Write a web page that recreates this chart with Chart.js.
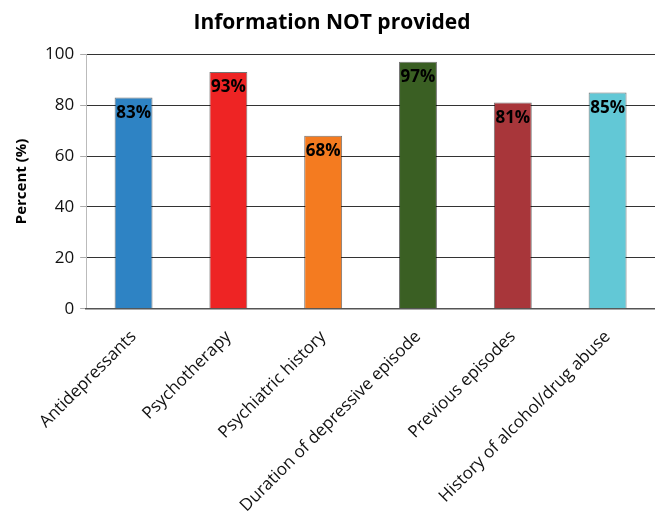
<!DOCTYPE html>
<html>
<head>
<meta charset="utf-8">
<script src="https://cdn.jsdelivr.net/npm/chart.js@4.4.1/dist/chart.umd.min.js"></script>
<style>
  html, body { margin: 0; padding: 0; background: #fff; }
  #wrap { width: 655px; height: 517px; }
</style>
</head>
<body>
<div id="wrap"><canvas id="chart"></canvas></div>
<script>
var categories = ['Antidepressants', 'Psychotherapy', 'Psychiatric history',
    'Duration of depressive episode', 'Previous episodes', 'History of alcohol/drug abuse'];
var percentValues = [83, 93, 68, 97, 81, 85];
var barColors = ['#2e83c4', '#ee2424', '#f47b20', '#3a5f23', '#a8363a', '#62c8d6'];
var yTicks = [0, 20, 40, 60, 80, 100];

var fontFamily = '"Open Sans", "Noto Sans", sans-serif';

// draws "83%" etc just inside the top of each bar
var barLabels = {
    id: 'barLabels',
    afterDatasetsDraw: function (chart) {
        var ctx = chart.ctx;
        var meta = chart.getDatasetMeta(0);
        ctx.save();
        ctx.font = 'bold 17px ' + fontFamily;
        ctx.fillStyle = '#000';
        ctx.textAlign = 'center';
        ctx.textBaseline = 'top';
        meta.data.forEach(function (bar, i) {
            ctx.fillText(percentValues[i] + '%', bar.x, bar.y + 7);
        });
        ctx.restore();
    }
};

var ctx = document.getElementById('chart').getContext('2d');
var chart = new Chart(ctx, {
    type: 'bar',
    data: {
        labels: categories,
        datasets: [{
            data: percentValues,
            backgroundColor: barColors,
            borderColor: 'rgba(0,0,0,0.55)',
            borderWidth: 1,
            barPercentage: 0.4,
            categoryPercentage: 1.0
        }]
    },
    options: {
        responsive: true,
        maintainAspectRatio: false,
        animation: false,
        layout: { padding: { left: 9, right: 0, top: 0, bottom: 0 } },
        plugins: {
            legend: { display: false },
            tooltip: { enabled: false },
            title: {
                display: true,
                text: 'Information NOT provided',
                color: '#000',
                font: { family: fontFamily, size: 21, weight: 'bold' },
                padding: { top: 10, bottom: 19 }
            }
        },
        scales: {
            y: {
                min: 0,
                max: 100,
                afterBuildTicks: function (axis) {
                    axis.ticks = yTicks.map(function (v) { return { value: v }; });
                },
                grid: {
                    color: function (c) { return c.tick.value === 0 ? 'transparent' : '#333'; },
                    lineWidth: 1,
                    drawTicks: true,
                    tickLength: 6,
                    tickColor: '#aaa'
                },
                border: { display: true, color: '#bbb' },
                ticks: {
                    color: '#111',
                    font: { family: fontFamily, size: 17 },
                    padding: 6
                },
                title: {
                    display: true,
                    text: 'Percent (%)',
                    color: '#000',
                    font: { family: fontFamily, size: 15, weight: 'bold' },
                    padding: { bottom: 8 }
                }
            },
            x: {
                afterFit: function (axis) {
                    // rotated labels get more room than they use
                    axis.height -= 9;
                },
                grid: { display: false },
                border: { display: true, color: '#555', width: 1.5 },
                ticks: {
                    color: '#111',
                    font: { family: fontFamily, size: 17 },
                    minRotation: 45,
                    maxRotation: 45,
                    autoSkip: false,
                    padding: 10
                }
            }
        }
    },
    plugins: [barLabels]
});
</script>
</body>
</html>
